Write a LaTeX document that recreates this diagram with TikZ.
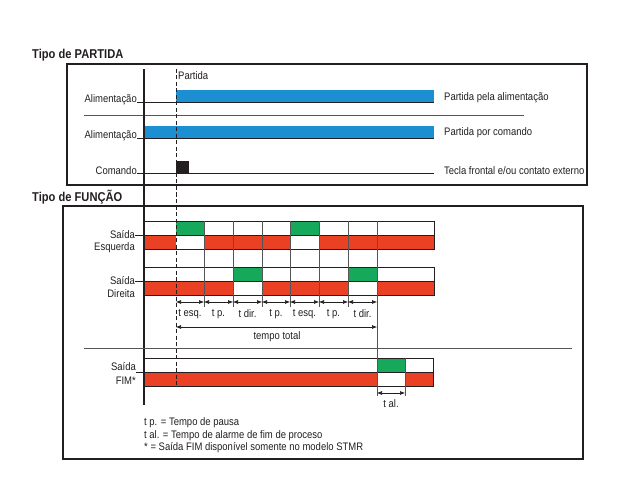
\documentclass[tikz,border=0pt]{standalone}
\usepackage{fontspec}
\setmainfont{Liberation Sans}[FakeStretch=0.87]
\usetikzlibrary{arrows.meta}
\definecolor{cblue}{HTML}{1B8FD2}
\definecolor{cred}{HTML}{EA4125}
\definecolor{cgreen}{HTML}{16A85B}
\definecolor{ink}{HTML}{231F20}
\definecolor{gline}{HTML}{555555}
\begin{document}
\begin{tikzpicture}[x=1pt,y=-1pt,
  lbl/.style={font=\fontsize{10.9}{12}\selectfont, text=ink, inner sep=0pt},
  ttl/.style={font=\bfseries\fontsize{12.8}{14}\selectfont, text=ink, inner sep=0pt, anchor=west},
  frame/.style={draw=ink, line width=1.5pt},
  base/.style={draw=ink, line width=1pt},
  sep/.style={draw=gline, line width=0.8pt},
  cellrow/.style={draw=ink, line width=0.8pt},
  grid/.style={draw=gline, line width=0.8pt},
  dim/.style={draw=ink, line width=0.6pt, {Latex[length=5pt,width=4pt]}-{Latex[length=5pt,width=4pt]}},
  tick/.style={draw=ink, line width=0.8pt}]
\useasboundingbox[fill=white] (0,0) rectangle (640,500);

% ---------- Tipo de PARTIDA ----------
\node[ttl] (t1) at (32,55) {Tipo de PARTIDA};
\draw[frame] (67,64) rectangle (587,185);

% bars
\fill[cblue] (176,90) rectangle (434,103);
\fill[cblue] (144,126) rectangle (434,139);
\fill[ink] (176,161) rectangle (189,174);

\node[lbl, anchor=east] (al1) at (137,100) {Alimentação};
\node[lbl, anchor=east] (al2) at (137,136) {Alimentação};
\node[lbl, anchor=east] (cmd) at (137,171) {Comando};
\coordinate (b1e) at (434,103);
\coordinate (b2e) at (434,139);
\coordinate (b3e) at (434,174);
\draw[base] (al1.east |- b1e) -- (b1e);
\draw[base] (al2.east |- b2e) -- (b2e);
\draw[base] (cmd.east |- b3e) -- (b3e);

\node[lbl, anchor=west] (r1) at (444,98) {Partida pela alimentação};
\node[lbl, anchor=west] (r2) at (444,133) {Partida por comando};
\node[lbl, anchor=west] (r3) at (444,171) {Tecla frontal e/ou contato externo};

\coordinate (s1a) at (84,115);
\coordinate (s1b) at (524,115);
\draw[sep] (s1a) -- (s1b);

\node[lbl, anchor=west] (part) at (178,76) {Partida};

% ---------- Tipo de FUNÇÃO ----------
\node[ttl] (t2) at (32,197) {Tipo de FUNÇÃO};
\draw[frame] (63,206) rectangle (583,459);

% Saida Esquerda
\fill[cgreen] (176,221) rectangle (204,235);
\fill[cgreen] (290,221) rectangle (319,235);
\fill[cred] (144,235) rectangle (176,249);
\fill[cred] (204,235) rectangle (290,249);
\fill[cred] (319,235) rectangle (434,249);
\draw[cellrow] (144,221) rectangle (434,235);
\draw[cellrow] (144,235) rectangle (434,249);

% Saida Direita
\fill[cgreen] (233,267) rectangle (262,281);
\fill[cgreen] (348,267) rectangle (377,281);
\fill[cred] (144,281) rectangle (233,295);
\fill[cred] (262,281) rectangle (348,295);
\fill[cred] (377,281) rectangle (434,295);
\draw[cellrow] (144,267) rectangle (434,281);
\draw[cellrow] (144,281) rectangle (434,295);

% Saida FIM
\fill[cgreen] (377,358) rectangle (405,372);
\fill[cred] (144,372) rectangle (377,386);
\fill[cred] (405,372) rectangle (433,386);
\draw[cellrow] (144,358) rectangle (433,372);
\draw[cellrow] (144,372) rectangle (433,386);

% grid lines
\foreach \x in {204,233,262,290,319,348} \draw[grid] (\x,221) -- (\x,307);
\draw[grid] (377,221) -- (377,396);
\draw[grid] (405,358) -- (405,396);

% main time axis lines
\draw[draw=ink, line width=1.2pt] (144,69) -- (144,405);
\draw[draw=ink, line width=1pt, dash pattern=on 4pt off 2.5pt] (176,69) -- (176,387);

% labels left
\node[lbl, anchor=east] (se1) at (135,235) {Saída};
\node[lbl, anchor=east] (se2) at (135,248) {Esquerda};
\node[lbl, anchor=east] (sd1) at (135,281) {Saída};
\node[lbl, anchor=east] (sd2) at (135,294) {Direita};
\node[lbl, anchor=east] (sf1) at (136,367) {Saída};
\node[lbl, anchor=east] (sf2) at (136,381) {FIM*};
\coordinate (e1) at (144,235);
\coordinate (e2) at (144,281);
\coordinate (e3) at (144,372);
\draw[tick] (se1.east) -- (e1);
\draw[tick] (sd1.east) -- (e2);
\draw[tick] (sf1.east |- e3) -- (e3);

% dimension arrows
\coordinate (a0) at (176,302);
\coordinate (a1) at (204,302);
\coordinate (a2) at (233,302);
\coordinate (a3) at (262,302);
\coordinate (a4) at (290,302);
\coordinate (a5) at (319,302);
\coordinate (a6) at (348,302);
\coordinate (a7) at (377,302);
\draw[dim] (a0) -- (a1);
\draw[dim] (a1) -- (a2);
\draw[dim] (a2) -- (a3);
\draw[dim] (a3) -- (a4);
\draw[dim] (a4) -- (a5);
\draw[dim] (a5) -- (a6);
\draw[dim] (a6) -- (a7);
\node[lbl] (d1) at (190,314) {t esq.};
\node[lbl] (d2) at (218.5,314) {t p.};
\node[lbl] (d3) at (247.5,314) {t dir.};
\node[lbl] (d4) at (276,314) {t p.};
\node[lbl] (d5) at (304.5,314) {t esq.};
\node[lbl] (d6) at (333.5,314) {t p.};
\node[lbl] (d7) at (362.5,314) {t dir.};

\coordinate (tt0) at (176,327);
\coordinate (tt1) at (377,327);
\draw[dim] (tt0) -- (tt1);
\node[lbl] (tt) at (277,337) {tempo total};

\coordinate (s2a) at (84,348);
\coordinate (s2b) at (572,348);
\draw[sep] (s2a) -- (s2b);

\coordinate (al0) at (377,393);
\coordinate (al1x) at (405,393);
\draw[dim] (al0) -- (al1x);
\node[lbl] (tal) at (391,404) {t al.};

% notes
\node[lbl, anchor=west] (n1) at (144,423) {t p. = Tempo de pausa};
\node[lbl, anchor=west] (n2) at (144,436) {t al. = Tempo de alarme de fim de proceso};
\node[lbl, anchor=west] (n3) at (144,448) {* = Saída FIM disponível somente no modelo STMR};
\end{tikzpicture}
\end{document}
